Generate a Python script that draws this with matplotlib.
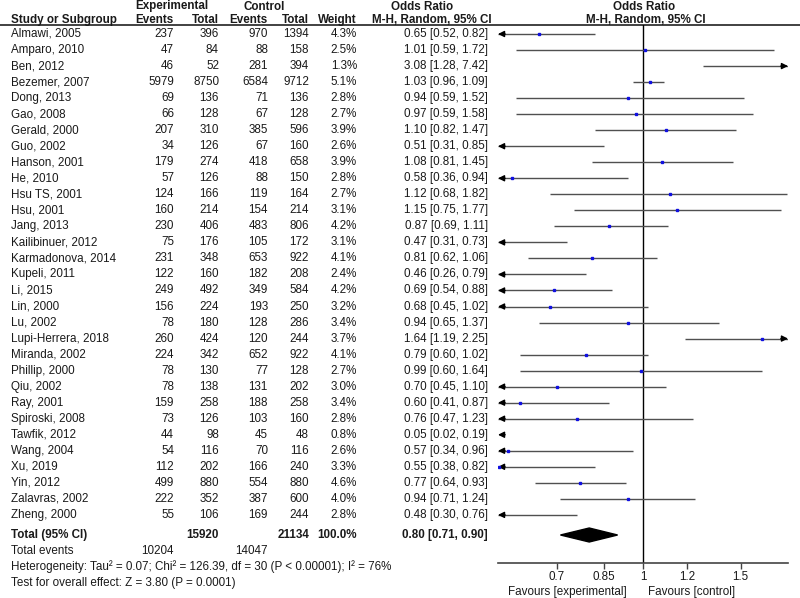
import numpy as np
import matplotlib.pyplot as plt
from matplotlib.patches import Polygon

plt.rcParams['font.family'] = ['Liberation Sans', 'DejaVu Sans']
plt.rcParams['font.size'] = 8.4

# study data
studies = ["Almawi, 2005", "Amparo, 2010", "Ben, 2012", "Bezemer, 2007", "Dong, 2013",
           "Gao, 2008", "Gerald, 2000", "Guo, 2002", "Hanson, 2001", "He, 2010",
           "Hsu TS, 2001", "Hsu, 2001", "Jang, 2013", "Kailibinuer, 2012",
           "Karmadonova, 2014", "Kupeli, 2011", "Li, 2015", "Lin, 2000", "Lu, 2002",
           "Lupi-Herrera, 2018", "Miranda, 2002", "Phillip, 2000", "Qiu, 2002",
           "Ray, 2001", "Spiroski, 2008", "Tawfik, 2012", "Wang, 2004", "Xu, 2019",
           "Yin, 2012", "Zalavras, 2002", "Zheng, 2000"]
exp_events = [237, 47, 46, 5979, 69, 66, 207, 34, 179, 57, 124, 160, 230, 75, 231, 122,
              249, 156, 78, 260, 224, 78, 78, 159, 73, 44, 54, 112, 499, 222, 55]
exp_total = [396, 84, 52, 8750, 136, 128, 310, 126, 274, 126, 166, 214, 406, 176, 348, 160,
             492, 224, 180, 424, 342, 130, 138, 258, 126, 98, 116, 202, 880, 352, 106]
ctl_events = [970, 88, 281, 6584, 71, 67, 385, 67, 418, 88, 119, 154, 483, 105, 653, 182,
              349, 193, 128, 120, 652, 77, 131, 188, 103, 45, 70, 166, 554, 387, 169]
ctl_total = [1394, 158, 394, 9712, 136, 128, 596, 160, 658, 150, 164, 214, 806, 172, 922, 208,
             584, 250, 286, 244, 922, 128, 202, 258, 160, 48, 116, 240, 880, 600, 244]
weights = [4.3, 2.5, 1.3, 5.1, 2.8, 2.7, 3.9, 2.6, 3.9, 2.8, 2.7, 3.1, 4.2, 3.1, 4.1, 2.4,
           4.2, 3.2, 3.4, 3.7, 4.1, 2.7, 3.0, 3.4, 2.8, 0.8, 2.6, 3.3, 4.6, 4.0, 2.8]
or_est = [0.65, 1.01, 3.08, 1.03, 0.94, 0.97, 1.10, 0.51, 1.08, 0.58, 1.12, 1.15, 0.87, 0.47,
          0.81, 0.46, 0.69, 0.68, 0.94, 1.64, 0.79, 0.99, 0.70, 0.60, 0.76, 0.05, 0.57, 0.55,
          0.77, 0.94, 0.48]
ci_low = [0.52, 0.59, 1.28, 0.96, 0.59, 0.59, 0.82, 0.31, 0.81, 0.36, 0.68, 0.75, 0.69, 0.31,
          0.62, 0.26, 0.54, 0.45, 0.65, 1.19, 0.60, 0.60, 0.45, 0.41, 0.47, 0.02, 0.34, 0.38,
          0.64, 0.71, 0.30]
ci_high = [0.82, 1.72, 7.42, 1.09, 1.52, 1.58, 1.47, 0.85, 1.45, 0.94, 1.82, 1.77, 1.11, 0.73,
           1.06, 0.79, 0.88, 1.02, 1.37, 2.25, 1.02, 1.64, 1.10, 0.87, 1.23, 0.19, 0.96, 0.82,
           0.93, 1.24, 0.76]

total_exp = 15920
total_ctl = 21134
sum_events_exp = 10204
sum_events_ctl = 14047
pooled_or, pooled_lo, pooled_hi = 0.80, 0.71, 0.90
ticks = [0.7, 0.85, 1, 1.2, 1.5]
tick_labels = ["0.7", "0.85", "1", "1.2", "1.5"]

W, H = 800, 598
ROW0, DY = 34, 16.03
TOTAL_Y = 535
XMAX = 1.825
XMIN = 1 / XMAX
TXT = '#1a1a1a'

fig = plt.figure(figsize=(W / 100, H / 100), dpi=100)

# text layer in pixel coordinates
tab = fig.add_axes([0, 0, 1, 1])
tab.set_xlim(0, W)
tab.set_ylim(H, 0)
tab.axis('off')

def put(x, y, s, ha='left', bold=False, va='center'):
    tab.text(x, y, s, ha=ha, va=va, color=TXT,
             fontweight='bold' if bold else 'normal')

# headers
put(172, 6.5, "Experimental", 'center', True)
put(264, 6.5, "Control", 'center', True)
put(422, 6.5, "Odds Ratio", 'center', True)
put(644, 6.5, "Odds Ratio", 'center', True)
put(11, 20, "Study or Subgroup", bold=True)
put(174, 20, "Events", 'right', True)
put(219, 20, "Total", 'right', True)
put(268, 20, "Events", 'right', True)
put(309, 20, "Total", 'right', True)
put(357, 20, "Weight", 'right', True)
put(432, 20, "M-H, Random, 95% CI", 'center', True)
put(646, 20, "M-H, Random, 95% CI", 'center', True)
tab.plot([0, W], [25, 25], color='#333333', lw=1.3)

for i, name in enumerate(studies):
    y = ROW0 + i * DY
    put(11, y, name)
    put(174, y, str(exp_events[i]), 'right')
    put(219, y, str(exp_total[i]), 'right')
    put(268, y, str(ctl_events[i]), 'right')
    put(309, y, str(ctl_total[i]), 'right')
    put(357, y, f"{weights[i]:.1f}%", 'right')
    put(488, y, f"{or_est[i]:.2f} [{ci_low[i]:.2f}, {ci_high[i]:.2f}]", 'right')

put(11, TOTAL_Y, "Total (95% CI)", bold=True)
put(219, TOTAL_Y, str(total_exp), 'right', True)
put(309, TOTAL_Y, str(total_ctl), 'right', True)
put(357, TOTAL_Y, "100.0%", 'right', True)
put(488, TOTAL_Y, f"{pooled_or:.2f} [{pooled_lo:.2f}, {pooled_hi:.2f}]", 'right', True)
put(11, 551, "Total events")
put(174, 551, str(sum_events_exp), 'right')
put(268, 551, str(sum_events_ctl), 'right')
put(11, 567, "Heterogeneity: Tau\u00b2 = 0.07; Chi\u00b2 = 126.39, df = 30 (P < 0.00001); I\u00b2 = 76%")
put(11, 583, "Test for overall effect: Z = 3.80 (P = 0.0001)")
put(627, 595, "Favours [experimental]", 'right', va='baseline')
put(648, 595, "Favours [control]", va='baseline')

# forest panel
ax = fig.add_axes([498 / W, 1 - 563 / H, 290 / W, (563 - 25) / H])
ax.set_xscale('log')
ax.set_xlim(XMIN, XMAX)
ax.set_ylim(563, 25)
ax.patch.set_alpha(0)
for s in ['top', 'left', 'right']:
    ax.spines[s].set_visible(False)
ax.spines['bottom'].set_color('#444444')
ax.spines['bottom'].set_linewidth(1.2)
ax.set_yticks([])
ax.minorticks_off()
ax.set_xticks(ticks)
ax.set_xticklabels(tick_labels)
ax.tick_params(axis='x', length=4, width=1, color='#444444', pad=1.5, labelsize=8.4,
               labelcolor=TXT)
ax.axvline(1, color='black', lw=1)

for i in range(len(studies)):
    y = ROW0 + i * DY
    lo = max(ci_low[i], XMIN)
    hi = min(ci_high[i], XMAX)
    if hi > lo:
        ax.plot([lo, hi], [y, y], color='#505050', lw=1.0, solid_capstyle='butt')
    if ci_low[i] < XMIN:
        ax.annotate("", xy=(XMIN, y), xytext=(XMIN * 1.03, y),
                    arrowprops=dict(arrowstyle='-|>', color='black', lw=1,
                                    mutation_scale=9, shrinkA=0, shrinkB=0),
                    annotation_clip=False)
    if ci_high[i] > XMAX:
        ax.annotate("", xy=(XMAX, y), xytext=(XMAX / 1.03, y),
                    arrowprops=dict(arrowstyle='-|>', color='black', lw=1,
                                    mutation_scale=9, shrinkA=0, shrinkB=0),
                    annotation_clip=False)
    if XMIN <= or_est[i] <= XMAX:
        ax.plot(or_est[i], y, marker='s', ms=2.0, color='#1010e0', mec='#1010e0', zorder=3)

dh = 7
diamond = Polygon([(pooled_lo, TOTAL_Y), (pooled_or, TOTAL_Y - dh),
                   (pooled_hi, TOTAL_Y), (pooled_or, TOTAL_Y + dh)],
                  closed=True, color='black')
ax.add_patch(diamond)

fig.savefig("out.png", dpi=100)
